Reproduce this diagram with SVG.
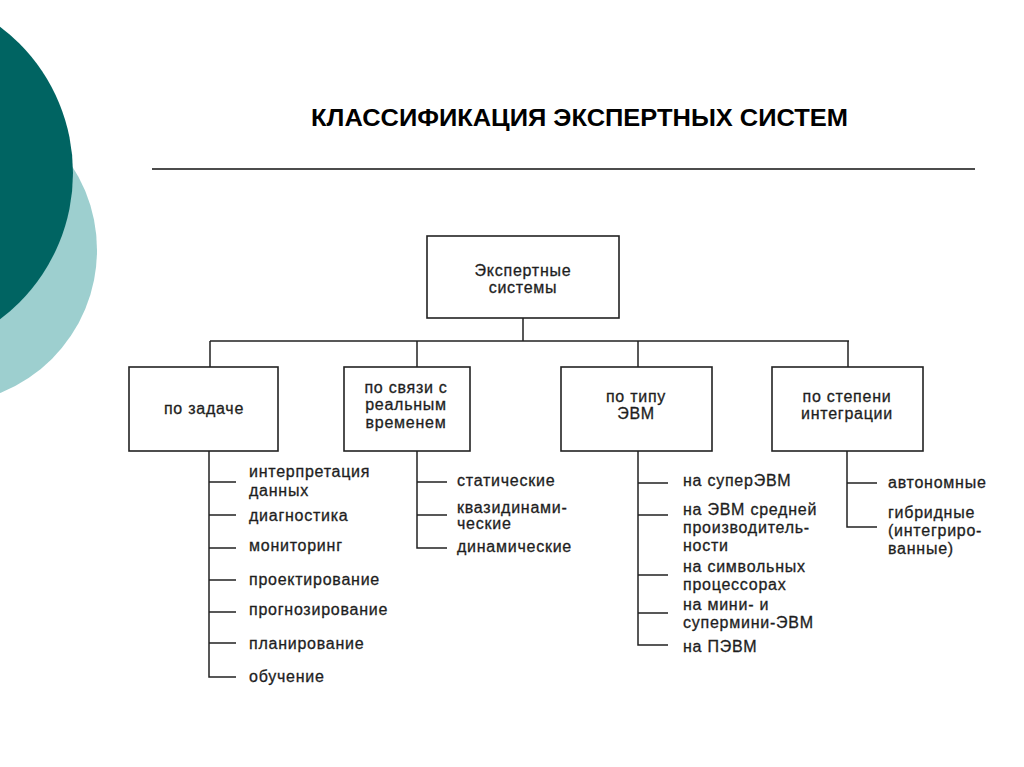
<svg xmlns="http://www.w3.org/2000/svg" width="1024" height="767" viewBox="0 0 1024 767">
<style>
.box{fill:#fff;stroke:#222;stroke-width:1.6}
.ln{fill:none;stroke:#222;stroke-width:1.5}
.t{font-family:"Liberation Sans",Arial,sans-serif;font-size:16px;fill:#1e1e1e;stroke:#1e1e1e;stroke-width:0.3;letter-spacing:0.75px}
.c{text-anchor:middle}
.title{font-family:"Liberation Sans",Arial,sans-serif;font-weight:bold;font-size:23px;fill:#000}
</style>
<rect width="1024" height="767" fill="#fff"/>
<g id="decor">
<circle cx="-57" cy="250" r="154" fill="#9dcfcf"/>
<circle cx="-110" cy="173" r="183" fill="#006462"/>
</g>
<g id="title">
<text class="title" x="311" y="126" textLength="537" lengthAdjust="spacingAndGlyphs">КЛАССИФИКАЦИЯ ЭКСПЕРТНЫХ СИСТЕМ</text>
<line x1="152" y1="169" x2="975" y2="169" stroke="#111" stroke-width="1.6"/>
</g>
<g id="connectors" class="ln">
<path d="M523 318V341M210 341H849M210 341V367M417 341V367M638 341V367M848 341V367"/>
<path d="M209 451V677H236M209 482H236M209 515H236M209 548H236M209 580H236M209 612H236M209 643H236"/>
<path d="M417 451V548H447M417 482H447M417 515H447"/>
<path d="M638 451V645H668M638 483H668M638 515H668M638 575H668M638 613H668"/>
<path d="M847 451V527H877M847 483H877"/>
</g>
<g id="root">
<rect class="box" x="427" y="236" width="192" height="82"/>
<text class="t c" x="523" y="276">Экспертные</text>
<text class="t c" x="523" y="293">системы</text>
</g>
<g id="task">
<rect class="box" x="129" y="367" width="149" height="84"/>
<text class="t c" x="204" y="414">по задаче</text>
</g>
<g id="realtime">
<rect class="box" x="344" y="367" width="126" height="84"/>
<text class="t c" x="406" y="393">по связи с</text>
<text class="t c" x="406" y="410">реальным</text>
<text class="t c" x="406" y="428">временем</text>
</g>
<g id="evm">
<rect class="box" x="561" y="367" width="151" height="84"/>
<text class="t c" x="636" y="402">по типу</text>
<text class="t c" x="636" y="419">ЭВМ</text>
</g>
<g id="integration">
<rect class="box" x="772" y="367" width="151" height="84"/>
<text class="t c" x="847" y="402">по степени</text>
<text class="t c" x="847" y="419">интеграции</text>
</g>
<g id="task-items">
<text class="t" x="249" y="477">интерпретация</text>
<text class="t" x="249" y="496">данных</text>
<text class="t" x="249" y="521">диагностика</text>
<text class="t" x="249" y="551">мониторинг</text>
<text class="t" x="249" y="585">проектирование</text>
<text class="t" x="249" y="615">прогнозирование</text>
<text class="t" x="249" y="649">планирование</text>
<text class="t" x="249" y="682">обучение</text>
</g>
<g id="realtime-items">
<text class="t" x="457" y="486">статические</text>
<text class="t" x="457" y="513">квазидинами-</text>
<text class="t" x="457" y="529">ческие</text>
<text class="t" x="457" y="552">динамические</text>
</g>
<g id="evm-items">
<text class="t" x="683" y="486">на суперЭВМ</text>
<text class="t" x="683" y="515">на ЭВМ средней</text>
<text class="t" x="683" y="533">производитель-</text>
<text class="t" x="683" y="551">ности</text>
<text class="t" x="683" y="572">на символьных</text>
<text class="t" x="683" y="590">процессорах</text>
<text class="t" x="683" y="610">на мини- и</text>
<text class="t" x="683" y="628">супермини-ЭВМ</text>
<text class="t" x="683" y="652">на ПЭВМ</text>
</g>
<g id="integration-items">
<text class="t" x="888" y="488">автономные</text>
<text class="t" x="888" y="518">гибридные</text>
<text class="t" x="888" y="536">(интегриро-</text>
<text class="t" x="888" y="554">ванные)</text>
</g>
</svg>
